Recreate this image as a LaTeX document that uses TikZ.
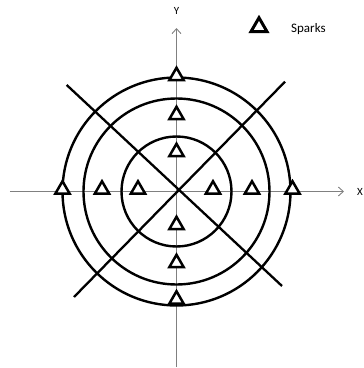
\documentclass[tikz,border=0pt]{standalone}
\usepackage{fontspec}
\setmainfont{Carlito}
\usetikzlibrary{shapes.geometric,arrows.meta}
\tikzset{
  axis/.style={draw=gray, line width=0.9pt, -{Straight Barb[length=5pt,width=9pt,line width=0.9pt]}},
  ring/.style={draw=black, line width=2.4pt},
  diag/.style={draw=black, line width=2.3pt},
  spark/.style={regular polygon, regular polygon sides=3, draw=black, fill=white,
    line width=2.5pt, minimum size=16.5pt, inner sep=0pt, yshift=2pt},
  bigspark/.style={spark, line width=3pt, minimum size=18.5pt},
  lbl/.style={inner sep=0pt, font=\fontsize{11}{13}\selectfont}
}
\begin{document}
\begin{tikzpicture}[x=1pt,y=1pt]
\useasboundingbox (0,0) rectangle (364,368);
\coordinate (c) at (176.5,176.5);
% axes
\coordinate (xs) at (10,176.5);
\coordinate (xe) at (344,176.5);
\coordinate (ys) at (176.5,1);
\coordinate (ye) at (176.5,340);
\draw[axis] (xs) -- (xe);
\draw[axis] (ys) -- (ye);
\node[lbl] (ylab) at (176.5,357) {Y};
\node[lbl, anchor=west] (xlab) at (357,176) {X};
% circles
\draw[ring] (c) circle[radius=55];
\draw[ring] (c) circle[radius=93];
\draw[ring] (c) circle[radius=114];
% diagonals
\coordinate (d1a) at (66.7,283);
\coordinate (d1b) at (282,82);
\coordinate (d2a) at (285,286.3);
\coordinate (d2b) at (74,71);
\draw[diag] (d1a) -- (d1b);
\draw[diag] (d2a) -- (d2b);
% sparks on y axis
\node[spark] (t1) at (176.5,290) {};
\node[spark] (t2) at (176.5,251) {};
\node[spark] (t3) at (176.5,214) {};
\node[spark] (t4) at (176.5,141) {};
\node[spark] (t5) at (176.5,103) {};
\node[spark] (t6) at (176.5,66.5) {};
% sparks on x axis
\node[spark] (s1) at (62.5,176.5) {};
\node[spark] (s2) at (102,176.5) {};
\node[spark] (s3) at (138,176.5) {};
\node[spark] (s4) at (213,176.5) {};
\node[spark] (s5) at (252,176.5) {};
\node[spark] (s6) at (292.5,176.5) {};
% legend
\node[bigspark] (leg) at (259,339) {};
\node[lbl, anchor=west, font=\fontsize{13}{15}\selectfont] (legtext) at (291,339) {Sparks};
\end{tikzpicture}
\end{document}
